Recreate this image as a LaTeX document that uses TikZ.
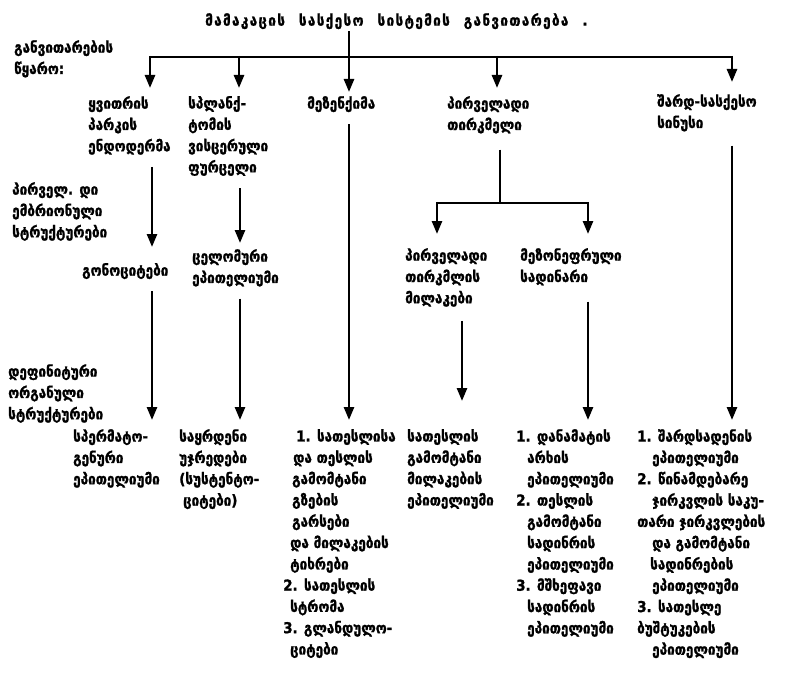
\documentclass[tikz,border=0pt]{standalone}
\usepackage{fontspec}
\setmainfont{DejaVu Sans}[BoldFeatures={FakeBold=1.3,FakeStretch=0.9}]
\usetikzlibrary{arrows.meta}

\tikzset{
  txt/.style={anchor=north west, inner sep=0pt, align=left,
    font=\fontsize{15}{21.3}\selectfont\bfseries},
  head/.style={txt, font=\fontsize{15}{21.3}\selectfont\bfseries\addfontfeature{LetterSpace=9}},
  wire/.style={line width=2.6pt},
  arr/.style={wire, -{Triangle[width=10pt,length=13pt]}},
}
\newcommand{\ind}[1]{\hspace*{#1pt}}
\newcommand{\gap}{\hspace{14pt}}

\begin{document}
\begin{tikzpicture}[x=1pt,y=-1pt]
\useasboundingbox (0,0) rectangle (793,674);
\fill[white] (0,0) rectangle (793,674);

% heading and the source row
\node[head] (title) at (205,13) {მამაკაცის\gap სასქესო\gap სისტემის\gap განვითარება\gap.};
\node[txt] (src) at (14,40) {განვითარების\\წყარო:};

\node[txt] (c1a) at (88,96)  {ყვითრის\\პარკის\\ენდოდერმა};
\node[txt] (c2a) at (188,96) {სპლანქ-\\ტომის\\ვისცერული\\ფურცელი};
\node[txt] (c3a) at (307,96) {მეზენქიმა};
\node[txt] (c4a) at (447,96) {პირველადი\\თირკმელი};
\node[txt] (c5a) at (657,94) {შარდ-სასქესო\\სინუსი};

% primary embryonic structures
\node[txt] (lbl1) at (12,182) {პირველ. დი\\ემბრიონული\\სტრუქტურები};
\node[txt] (c1b) at (82,263)  {გონოციტები};
\node[txt] (c2b) at (192,249) {ცელომური\\ეპითელიუმი};
\node[txt] (c4b) at (405,248) {პირველადი\\თირკმლის\\მილაკები};
\node[txt] (c4c) at (520,248) {მეზონეფრული\\სადინარი};

% definitive organ structures
\node[txt] (lbl2) at (8,364) {დეფინიტური\\ორგანული\\სტრუქტურები};
\node[txt] (d1) at (73,429)  {სპერმატო-\\გენური\\ეპითელიუმი};
\node[txt] (d2) at (179,429) {საყრდენი\\უჯრედები\\(სუსტენტო-\\\ind{4}ციტები)};
\node[txt] (d3) at (283,429) {\ind{13}1. სათესლისა\\\ind{10}და თესლის\\\ind{9}გამომტანი\\\ind{9}გზების\\\ind{9}გარსები\\\ind{7}და მილაკების\\\ind{7}ტიხრები\\2. სათესლის\\\ind{7}სტრომა\\3. გლანდულო-\\\ind{7}ციტები};
\node[txt] (d4) at (407,429) {სათესლის\\გამომტანი\\მილაკების\\ეპითელიუმი};
\node[txt] (d5) at (516,429) {1. დანამატის\\\ind{11}არხის\\\ind{11}ეპითელიუმი\\2. თესლის\\\ind{11}გამომტანი\\\ind{11}სადინრის\\\ind{11}ეპითელიუმი\\3. მშხეფავი\\\ind{11}სადინრის\\\ind{11}ეპითელიუმი};
\node[txt] (d6) at (637,429) {1. შარდსადენის\\\ind{15}ეპითელიუმი\\2. წინამდებარე\\\ind{15}ჯირკვლის საკუ-\\თარი ჯირკვლების\\\ind{15}და გამომტანი\\\ind{13}სადინრების\\\ind{15}ეპითელიუმი\\3. სათესლე\\ბუშტუკების\\\ind{15}ეპითელიუმი};

% column positions on the distribution bar
\coordinate (k1) at (150,57);
\coordinate (k2) at (239,57);
\coordinate (k3) at (349,57);
\coordinate (k4) at (497,57);
\coordinate (k5) at (732,57);

% distribution bar and arrows to the sources
\draw[wire] (k1) -- (k5);
\draw[arr] ([yshift=-2pt]title.south -| k3) -- ([yshift=4pt]c3a.north -| k3);
\draw[arr] ([yshift=1pt]k1) -- ([yshift=8pt]c1a.north -| k1);
\draw[arr] ([yshift=1pt]k2) -- ([yshift=8pt]c2a.north -| k2);
\draw[arr] ([yshift=1pt]k4) -- ([yshift=8pt]c4a.north -| k4);
\draw[arr] ([yshift=1pt]k5) -- ([yshift=12pt]c5a.north -| k5);

% sources to primary structures
\coordinate (x1) at (152,0);
\coordinate (x2) at (240,0);
\draw[arr] ([yshift=-12pt]c1a.south -| x1) -- ([yshift=16pt]c1b.north -| x1);
\draw[arr] ([yshift=-12pt]c2a.south -| x2) -- ([yshift=6pt]c2b.north -| x2);

% primary kidney splits in two
\coordinate (s4) at (500,0);
\coordinate (b4) at (500,203);
\coordinate (l4) at (437,203);
\coordinate (r4) at (588,203);
\draw[wire] ([yshift=-16pt]c4a.south -| s4) -- (b4);
\draw[wire] (l4) -- (r4);
\draw[arr] ([yshift=1pt]l4) -- ([yshift=14pt]c4b.north -| l4);
\draw[arr] ([yshift=1pt]r4) -- ([yshift=14pt]c4c.north -| r4);

% primary structures to definitive structures
\coordinate (x4) at (462,0);
\draw[arr] ([yshift=-12pt]c1b.south -| x1) -- ([yshift=9pt]d1.north -| x1);
\draw[arr] ([yshift=-12pt]c2b.south -| x2) -- ([yshift=9pt]d2.north -| x2);
\draw[arr] ([yshift=-12pt]c3a.south -| k3) -- ([yshift=9pt]d3.north -| k3);
\draw[arr] ([yshift=-14pt]c4b.south -| x4) -- ([yshift=28pt]d4.north -| x4);
\draw[arr] ([yshift=-16pt]c4c.south -| r4) -- ([yshift=9pt]d5.north -| r4);
\draw[arr] ([yshift=-14pt]c5a.south -| k5) -- ([yshift=9pt]d6.north -| k5);
\end{tikzpicture}
\end{document}
